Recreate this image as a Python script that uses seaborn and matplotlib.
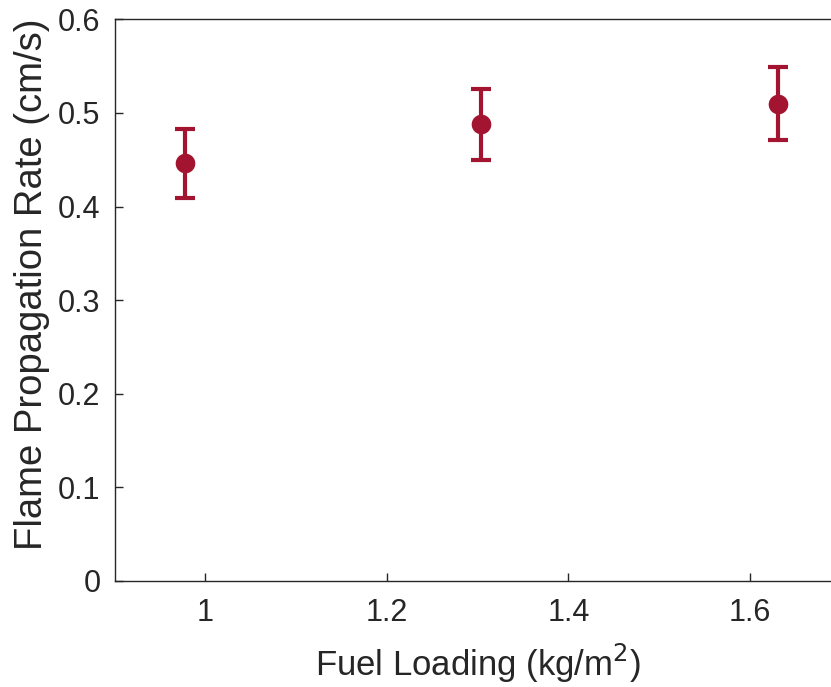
import matplotlib
matplotlib.use("Agg")
import matplotlib.pyplot as plt
import seaborn as sns
import pandas as pd

fuel_loading = [0.978, 1.304, 1.631]
rate = [0.446, 0.488, 0.510]
rate_err = [0.037, 0.038, 0.039]
x_ticks = [1.0, 1.2, 1.4, 1.6]
x_tick_labels = ["1", "1.2", "1.4", "1.6"]
y_ticks = [0, 0.1, 0.2, 0.3, 0.4, 0.5, 0.6]
y_tick_labels = ["0", "0.1", "0.2", "0.3", "0.4", "0.5", "0.6"]

color = "#A2142F"
sns.set_style("ticks")
plt.rcParams["font.family"] = ["Liberation Sans", "DejaVu Sans"]

df = pd.DataFrame({"x": fuel_loading, "y": rate, "err": rate_err})

fig = plt.figure(figsize=(8.31, 6.87), dpi=100)
ax = fig.add_axes([114.5 / 831, 106 / 687, (840.6 - 114.5) / 831, (581 - 19.3) / 687])

ax.errorbar(df["x"], df["y"], yerr=df["err"], fmt="none", ecolor=color,
            elinewidth=3, capsize=7.5, capthick=3, zorder=2)
sns.scatterplot(data=df, x="x", y="y", ax=ax, color=color, s=200,
                edgecolor=color, linewidth=0, zorder=3, legend=False)

ax.set_xlim(0.9, 1.7)
ax.set_ylim(0, 0.6)
ax.set_xticks(x_ticks)
ax.set_xticklabels(x_tick_labels)
ax.set_yticks(y_ticks)
ax.set_yticklabels(y_tick_labels)

for s in ax.spines.values():
    s.set_color("#262626")
    s.set_linewidth(1.0)
ax.tick_params(direction="in", length=6, width=1, colors="#262626",
               labelsize=22, pad=12, top=False, right=False)
ax.tick_params(axis="y", pad=10)
ax.set_xlabel("Fuel Loading (kg/m$^2$)", fontsize=25, color="#262626", labelpad=10)
ax.set_ylabel("Flame Propagation Rate (cm/s)", fontsize=27.5, color="#262626", labelpad=6)
ax.yaxis.label.set_y(0.529)

fig.savefig("out.png", dpi=100)
